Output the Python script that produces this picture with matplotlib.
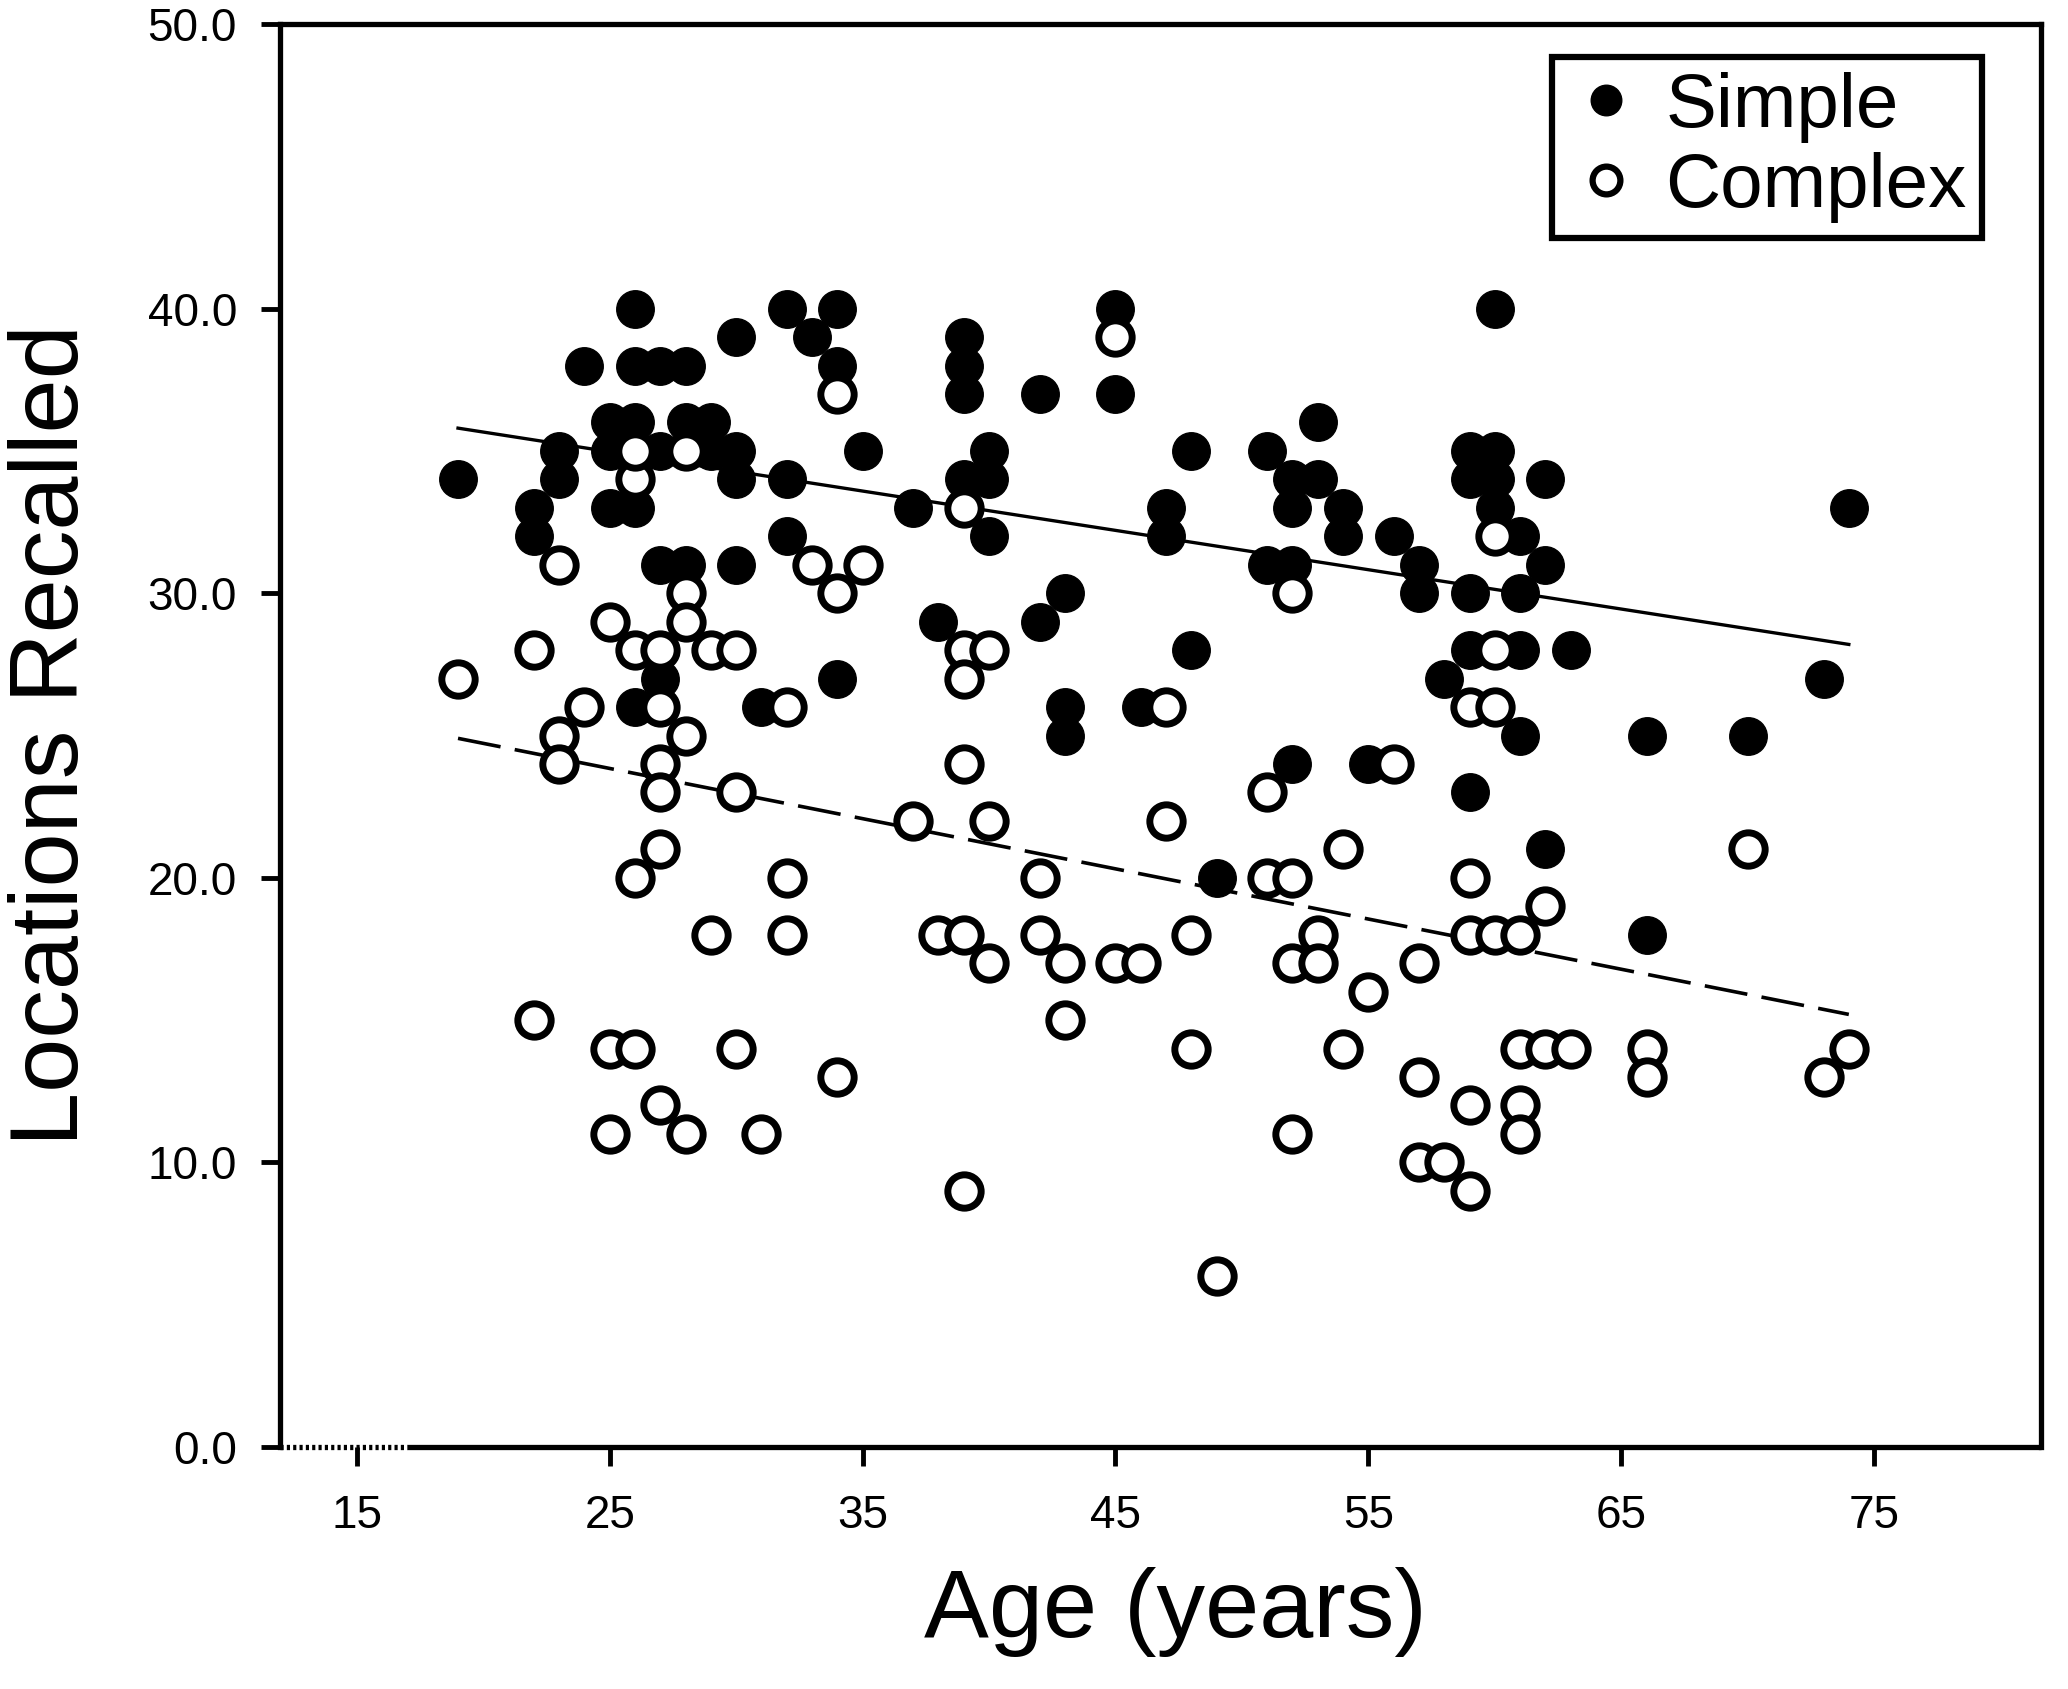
import matplotlib
matplotlib.use("Agg")
import matplotlib.pyplot as plt
from matplotlib.lines import Line2D

plt.rcParams['font.family'] = ['Liberation Sans', 'DejaVu Sans']

# ---- data (age in years, locations recalled) ----
simple_age = [19, 22, 22, 23, 23, 24, 25, 25, 25,
              26, 26, 26, 26, 26, 26,
              27, 27, 27, 27, 27, 27,
              28, 28, 28, 29, 29, 30, 30, 30, 30, 31,
              32, 32, 32, 33, 34, 34, 34, 35, 37, 38,
              39, 39, 39, 39, 40, 40, 40, 42, 42, 43, 43, 43,
              45, 45, 46, 47, 47, 48, 48, 49, 51, 51,
              52, 52, 52, 52, 53, 53, 54, 54, 55, 56, 57, 57, 58,
              59, 59, 59, 59, 59, 60, 60, 60, 60,
              61, 61, 61, 61, 62, 62, 62, 63, 66, 66, 70, 73, 74]
simple_val = [34, 33, 32, 35, 34, 38, 36, 35, 33,
              40, 38, 36, 35, 33, 26,
              38, 35, 31, 28, 27, 26,
              38, 36, 31, 36, 35, 39, 35, 34, 31, 26,
              40, 34, 32, 39, 40, 38, 27, 35, 33, 29,
              39, 38, 37, 34, 35, 34, 32, 37, 29, 30, 26, 25,
              40, 37, 26, 33, 32, 35, 28, 20, 35, 31,
              34, 33, 31, 24, 36, 34, 33, 32, 24, 32, 31, 30, 27,
              35, 34, 30, 28, 23, 40, 35, 34, 33,
              32, 30, 28, 25, 34, 31, 21, 28, 25, 18, 25, 27, 33]

complex_age = [19, 22, 22, 23, 23, 23, 24, 25, 25, 25,
               26, 26, 26, 26, 26,
               27, 27, 27, 27, 27, 27,
               28, 28, 28, 28, 28, 29, 29, 30, 30, 30, 31,
               32, 32, 32, 33, 34, 34, 34, 35, 37, 38,
               39, 39, 39, 39, 39, 39, 40, 40, 40, 42, 42, 43, 43,
               45, 45, 46, 47, 47, 48, 48, 49, 51, 51,
               52, 52, 52, 52, 53, 53, 54, 54, 55, 56, 57, 57, 57, 58,
               59, 59, 59, 59, 59, 60, 60, 60, 60,
               61, 61, 61, 61, 62, 62, 63, 66, 66, 70, 73, 74]
complex_val = [27, 28, 15, 31, 25, 24, 26, 29, 14, 11,
               34, 28, 20, 14, 35,
               28, 26, 24, 23, 21, 12,
               35, 30, 29, 25, 11, 28, 18, 28, 23, 14, 11,
               26, 20, 18, 31, 37, 30, 13, 31, 22, 18,
               33, 28, 27, 24, 18, 9, 28, 22, 17, 20, 18, 17, 15,
               39, 17, 17, 26, 22, 18, 14, 6, 23, 20,
               30, 20, 17, 11, 18, 17, 21, 14, 16, 24, 17, 13, 10, 10,
               26, 20, 18, 12, 9, 32, 28, 26, 18,
               18, 14, 12, 11, 19, 14, 14, 14, 13, 21, 13, 14]

# regression lines (endpoints at youngest / oldest age)
fit_age = [19, 74]
simple_fit = [35.8, 28.2]
complex_fit = [24.9, 15.2]

x_ticks = [15, 25, 35, 45, 55, 65, 75]
y_ticks = [0, 10, 20, 30, 40, 50]

# ---- figure ----
W, H, DPI = 2068, 1689, 100
fig = plt.figure(figsize=(W / DPI, H / DPI), dpi=DPI)
ax = fig.add_axes([280 / W, 1 - 1447 / H, (2041 - 280) / W, (1447 - 24) / H])

ax.set_xlim(11.96, 81.6)
ax.set_ylim(0, 50)

ms = 27
ax.plot(simple_age, simple_val, 'o', ms=ms, mfc='black', mec='black', mew=1,
        ls='none', zorder=3)
ax.plot(complex_age, complex_val, 'o', ms=ms - 3, mfc='white', mec='black', mew=5,
        ls='none', zorder=4)

ax.plot(fit_age, simple_fit, '-', color='black', lw=2.4, zorder=2)
ax.plot(fit_age, complex_fit, color='black', lw=2.6, dashes=(12, 4), zorder=2)

ax.set_xticks(x_ticks)
ax.set_xticklabels([str(v) for v in x_ticks])
ax.set_yticks(y_ticks)
ax.set_yticklabels([f"{v:.1f}" for v in y_ticks])
ax.tick_params(axis='both', direction='out', length=14, width=3.5,
               labelsize=33, color='black')
ax.tick_params(axis='x', pad=20)
ax.tick_params(axis='y', pad=17)

for s in ['left', 'right', 'top']:
    ax.spines[s].set_linewidth(3.8)
ax.spines['bottom'].set_visible(False)
# bottom axis: dotted segment at the left, solid afterwards
ax.plot([11.96, 17], [0, 0], color='black', lw=3.8, ls=(0, (0.6, 0.6)),
        clip_on=False, zorder=5)
ax.plot([17, 81.6], [0, 0], color='black', lw=3.8, solid_capstyle='butt',
        clip_on=False, zorder=5)

ax.set_xlabel("Age (years)", fontsize=70, labelpad=26)
ax.xaxis.set_label_coords(0.5086, -0.084, transform=ax.transAxes)
ax.xaxis.label.set_va('top')
ax.set_ylabel("Locations Recalled", fontsize=70, labelpad=36)

handles = [
    Line2D([], [], marker='o', ls='none', ms=22, mfc='black', mec='black'),
    Line2D([], [], marker='o', ls='none', ms=20, mfc='white', mec='black', mew=4.5),
]
leg = ax.legend(handles, ["Simple", "Complex"], loc='upper right',
                bbox_to_anchor=(0.9665, 0.977), fontsize=55, frameon=True,
                fancybox=False, edgecolor='black', framealpha=1,
                handletextpad=0.28, handlelength=1.0, borderpad=0.2,
                labelspacing=0.12, borderaxespad=0)
leg.get_frame().set_linewidth(4.5)

fig.savefig("out.png", dpi=DPI)
